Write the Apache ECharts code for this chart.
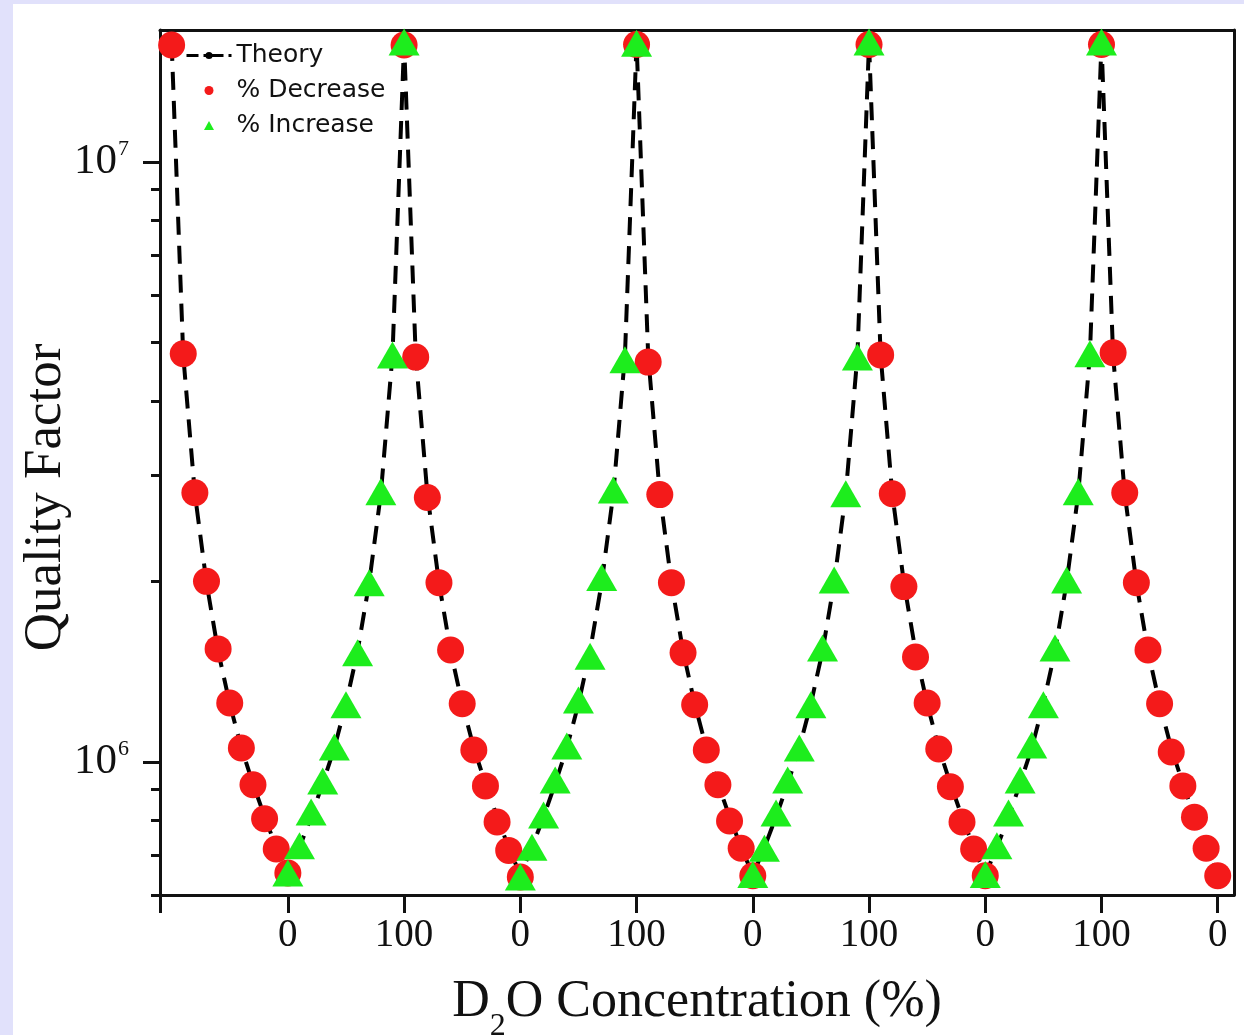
<!DOCTYPE html>
<html><head><meta charset="utf-8">
<script src="https://cdn.jsdelivr.net/npm/echarts@6/dist/echarts.min.js"></script>
<style>
html,body{margin:0;padding:0;background:#e1e1fb;width:1244px;height:1035px;overflow:hidden}
#c{position:absolute;left:13px;top:4px;width:1231px;height:1031px;background:#fff}
</style></head><body><div id="c"></div>
<script>
// D2O concentration steps (%) in the order of a decreasing sweep
const concDecrease = [100, 90, 80, 70, 60, 50, 40, 30, 20, 10, 0];
const concIncrease = [0, 10, 20, 30, 40, 50, 60, 70, 80, 90, 100];

// % Decrease sweeps (Q at 100, 90, ..., 0)
const decrease1 = [1.567e7, 4.79e6, 2.81e6, 2.00e6, 1.543e6, 1.254e6, 1.055e6, 9.16e5, 8.04e5, 7.16e5, 6.53e5];
const decrease2 = [1.567e7, 4.73e6, 2.76e6, 1.99e6, 1.537e6, 1.25e6, 1.047e6, 9.12e5, 7.94e5, 7.12e5, 6.43e5];
const decrease3 = [1.57e7, 4.64e6, 2.79e6, 1.99e6, 1.52e6, 1.245e6, 1.047e6, 9.16e5, 7.97e5, 7.18e5, 6.46e5];
const decrease4 = [1.57e7, 4.77e6, 2.80e6, 1.96e6, 1.496e6, 1.254e6, 1.051e6, 9.09e5, 7.94e5, 7.16e5, 6.46e5];
const decrease5 = [1.57e7, 4.81e6, 2.81e6, 1.99e6, 1.537e6, 1.25e6, 1.039e6, 9.12e5, 8.09e5, 7.18e5, 6.46e5];

// % Increase sweeps (Q at 0, 10, ..., 100)
const increase1 = [6.53e5, 7.25e5, 8.25e5, 9.29e5, 1.059e6, 1.245e6, 1.52e6, 1.99e6, 2.82e6, 4.77e6, 1.585e7];
const increase2 = [6.43e5, 7.21e5, 8.16e5, 9.33e5, 1.063e6, 1.268e6, 1.50e6, 2.03e6, 2.84e6, 4.68e6, 1.578e7];
const increase3 = [6.49e5, 7.18e5, 8.22e5, 9.33e5, 1.055e6, 1.245e6, 1.549e6, 2.01e6, 2.80e6, 4.73e6, 1.585e7];
const increase4 = [6.49e5, 7.25e5, 8.22e5, 9.33e5, 1.067e6, 1.245e6, 1.549e6, 2.01e6, 2.82e6, 4.79e6, 1.585e7];

// Theory Q versus concentration (0, 10, ..., 100)
const theoryConc = [0, 10, 20, 30, 40, 50, 60, 70, 80, 90, 100];
const theoryQ = [6.48e5, 7.2e5, 8.1e5, 9.2e5, 1.055e6, 1.25e6, 1.53e6, 1.99e6, 2.80e6, 4.76e6, 1.58e7];

// Sweep order along the x axis
const sweepOrder = ['dec', 'inc', 'dec', 'inc', 'dec', 'inc', 'dec', 'inc', 'dec'];
const decreaseSweeps = [decrease1, decrease2, decrease3, decrease4, decrease5];
const increaseSweeps = [increase1, increase2, increase3, increase4];

// Axis tick labels
const xTickLabels = ['0', '100', '0', '100', '0', '100', '0', '100', '0'];
const yMajorExponents = [6, 7];
const yMinorValues = [6e5, 7e5, 8e5, 9e5, 2e6, 3e6, 4e6, 5e6, 6e6, 7e6, 8e6, 9e6];
const yMin = 6e5, yMax = 1.66e7;
const xMin = -10, xMax = 914;

// build series data: each sweep spans 100 units along the axis
const decData = [], incData = [], theoryData = [];
let di = 0, ii = 0;
sweepOrder.forEach((dir, s) => {
  const start = s * 100;
  if (dir === 'dec') {
    const q = decreaseSweeps[di++];
    concDecrease.forEach((c, k) => decData.push([start + (100 - c), q[k]]));
  } else {
    const q = increaseSweeps[ii++];
    concIncrease.forEach((c, k) => incData.push([start + c, q[k]]));
  }
  const order = dir === 'dec' ? theoryConc.slice().reverse() : theoryConc.slice();
  order.forEach((c, k) => {
    if (s > 0 && k === 0) return;
    const q = theoryQ[theoryConc.indexOf(c)];
    theoryData.push([dir === 'dec' ? start + (100 - c) : start + c, q]);
  });
});
const xLabelPos = xTickLabels.map((_, i) => (i + 1) * 100);
const xTickPos = [xMin].concat(xLabelPos);

const ink = '#111';
const serif = 'Liberation Serif';
const lmin = Math.log10(yMin), lmax = Math.log10(yMax);

const chart = echarts.init(document.getElementById('c'), null, {renderer: 'canvas'});
chart.setOption({
  animation: false,
  backgroundColor: '#fff',
  grid: {left: 147, top: 26, right: 10, bottom: 140, outerBoundsMode: 'none'},
  legend: {
    orient: 'vertical', left: 167, top: 34,
    itemWidth: 45, itemHeight: 9, itemGap: 10, symbolKeepAspect: true,
    textStyle: {fontFamily: 'DejaVu Sans', fontSize: 25, color: ink, lineHeight: 25},
    data: [
      {name: 'Theory', lineStyle: {type: [12, 5, 3, 5], width: 3}},
      {name: '% Decrease', icon: 'circle'},
      {name: '% Increase', icon: 'path://M0,9 L5,0 L10,9 Z'}
    ]
  },
  xAxis: [{
    type: 'value', position: 'bottom', min: xMin, max: xMax,
    axisLine: {onZero: false, lineStyle: {color: ink, width: 3}},
    axisTick: {customValues: xTickPos, length: 18, lineStyle: {color: ink, width: 3}},
    axisLabel: {customValues: xLabelPos, formatter: v => xTickLabels[Math.round(v / 100) - 1],
      fontFamily: serif, fontSize: 39, color: ink, margin: 21},
    splitLine: {show: false},
    name: '{m|D}{s|2}{m|O Concentration (%)}', nameLocation: 'middle', nameGap: 66,
    nameMoveOverlap: false,
    nameTextStyle: {rich: {
      m: {fontFamily: serif, fontSize: 52, color: ink},
      s: {fontFamily: serif, fontSize: 32, color: ink, padding: [50, 0, 0, 0]}
    }}
  }, {
    type: 'value', position: 'top', min: xMin, max: xMax,
    axisLine: {onZero: false, lineStyle: {color: ink, width: 3}},
    axisTick: {show: false}, axisLabel: {show: false}, splitLine: {show: false}
  }],
  yAxis: [{
    type: 'log', logBase: 10, min: yMin, max: yMax, position: 'left',
    axisLine: {show: true, onZero: false, lineStyle: {color: ink, width: 3}},
    axisTick: {show: false}, axisLabel: {show: false}, splitLine: {show: false}, minorTick: {show: false},
    name: 'Quality Factor', nameLocation: 'middle', nameGap: 87, nameMoveOverlap: false,
    nameTextStyle: {fontFamily: serif, fontSize: 53, color: ink, padding: [0, 70, 0, 0]}
  }, {
    type: 'value', min: lmin, max: lmax, position: 'left',
    axisLine: {show: false, onZero: false},
    axisTick: {customValues: yMajorExponents, length: 17, lineStyle: {color: ink, width: 3}},
    axisLabel: {customValues: yMajorExponents, margin: 31,
      formatter: v => '{n|10}{e|' + Math.round(v) + '}',
      rich: {
        n: {fontFamily: serif, fontSize: 43, color: ink},
        e: {fontFamily: serif, fontSize: 22, color: ink, padding: [0, 0, 26, 1]}
      }},
    splitLine: {show: false}
  }, {
    type: 'value', min: lmin, max: lmax, position: 'left',
    axisLine: {show: false, onZero: false},
    axisTick: {customValues: yMinorValues.map(v => Math.log10(v)), length: 9, lineStyle: {color: ink, width: 3}},
    axisLabel: {show: false}, splitLine: {show: false}
  }, {
    type: 'value', min: lmin, max: lmax, position: 'right',
    axisLine: {show: true, onZero: false, lineStyle: {color: ink, width: 3}},
    axisTick: {show: false}, axisLabel: {show: false}, splitLine: {show: false}
  }],
  series: [{
    name: 'Theory', type: 'line', data: theoryData, showSymbol: false, symbol: 'none',
    lineStyle: {color: '#000', width: 4, type: [18, 11]}, itemStyle: {color: '#000'}, z: 1
  }, {
    name: '% Decrease', type: 'scatter', data: decData, symbol: 'circle', symbolSize: 27,
    itemStyle: {color: '#f41a1a', opacity: 1}, z: 2
  }, {
    name: '% Increase', type: 'scatter', data: incData, symbol: 'triangle', symbolSize: [31, 27],
    itemStyle: {color: '#1ded1d', opacity: 1}, z: 3
  }]
});
</script></body></html>
